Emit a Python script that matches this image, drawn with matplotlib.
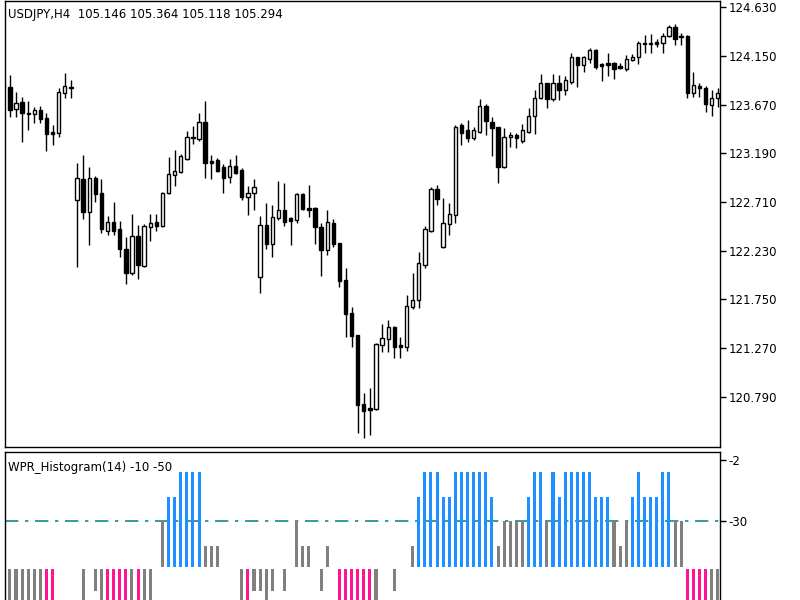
import numpy as np
import matplotlib
matplotlib.use('Agg')
import matplotlib.pyplot as plt

plt.rcParams['axes.unicode_minus'] = False

# USDJPY H4 candles
opens = [123.87, 123.84, 123.63, 123.70, 123.59, 123.58, 123.62, 123.54, 123.40, 123.39,
         123.78, 123.83, 122.73, 122.94, 122.61, 122.95, 122.80, 122.42, 122.51, 122.44,
         122.25, 122.01, 122.37, 122.08, 122.46, 122.51, 122.47, 122.80, 122.98, 123.01,
         123.13, 123.34, 123.33, 123.50, 123.11, 123.12, 123.05, 122.96, 123.06, 123.03,
         122.76, 122.80, 121.97, 122.48, 122.30, 122.55, 122.63, 122.55, 122.53, 122.79,
         122.65, 122.65, 122.46, 122.24, 122.50, 122.31, 121.94, 121.61, 121.40, 120.72,
         120.68, 120.67, 121.30, 121.36, 121.48, 121.30, 121.28, 121.67, 121.74, 122.09,
         122.42, 122.84, 122.27, 122.49, 122.58, 123.47, 123.42, 123.34, 123.40, 123.66,
         123.50, 123.45, 123.05, 123.35, 123.37, 123.31, 123.40, 123.56, 123.74, 123.88,
         123.73, 123.88, 123.81, 123.89, 124.14, 124.06, 124.12, 124.21, 124.07, 124.08,
         124.08, 124.05, 124.02, 124.11, 124.14, 124.28, 124.27, 124.29, 124.28, 124.35,
         124.44, 124.34, 124.35, 123.78, 123.85, 123.83, 123.67, 123.74]
highs = [123.88, 123.96, 123.79, 123.75, 123.71, 123.65, 123.66, 123.59, 123.47, 123.83,
         123.98, 123.91, 123.09, 123.17, 123.05, 122.97, 122.94, 122.57, 122.71, 122.52,
         122.36, 122.59, 122.48, 122.49, 122.59, 122.59, 122.81, 123.15, 123.22, 123.18,
         123.41, 123.46, 123.59, 123.71, 123.17, 123.14, 123.08, 123.13, 123.17, 123.04,
         122.87, 122.94, 122.57, 122.70, 122.68, 122.92, 122.90, 122.56, 122.80, 122.80,
         122.88, 122.66, 122.50, 122.63, 122.54, 122.31, 122.06, 121.67, 121.40, 120.83,
         120.87, 121.32, 121.51, 121.55, 121.49, 121.38, 121.79, 122.01, 122.22, 122.47,
         122.86, 122.88, 122.75, 122.70, 123.47, 123.49, 123.52, 123.45, 123.73, 123.68,
         123.55, 123.45, 123.44, 123.40, 123.39, 123.48, 123.64, 123.81, 123.97, 123.88,
         123.97, 123.96, 123.95, 124.18, 124.14, 124.15, 124.23, 124.22, 124.08, 124.18,
         124.09, 124.08, 124.16, 124.17, 124.30, 124.36, 124.37, 124.32, 124.38, 124.46,
         124.47, 124.38, 124.36, 123.99, 123.88, 123.85, 123.81, 123.83]
lows = [123.83, 123.55, 123.55, 123.30, 123.42, 123.49, 123.49, 123.21, 123.27, 123.35,
        123.74, 123.74, 122.07, 122.54, 122.29, 122.71, 122.40, 122.38, 122.38, 122.17,
        121.90, 121.99, 121.95, 122.07, 122.32, 122.42, 122.46, 122.79, 122.87, 123.00,
        123.12, 123.28, 123.31, 122.95, 122.94, 123.01, 122.80, 122.90, 122.99, 122.73,
        122.58, 122.63, 121.81, 122.25, 122.17, 122.53, 122.47, 122.29, 122.50, 122.63,
        122.56, 122.30, 121.98, 122.19, 122.27, 121.87, 121.38, 121.28, 120.43, 120.38,
        120.41, 120.66, 121.23, 121.23, 121.17, 121.17, 121.24, 121.65, 121.66, 122.06,
        122.41, 122.68, 122.26, 122.38, 122.50, 123.27, 123.30, 123.32, 123.39, 123.37,
        123.16, 122.90, 123.04, 123.25, 123.24, 123.29, 123.39, 123.38, 123.73, 123.64,
        123.71, 123.72, 123.76, 123.87, 123.84, 123.99, 124.08, 124.02, 123.90, 123.95,
        123.92, 124.02, 124.00, 124.10, 124.07, 124.18, 124.18, 124.24, 124.18, 124.34,
        124.26, 124.26, 123.74, 123.75, 123.75, 123.60, 123.56, 123.65]
closes = [123.85, 123.62, 123.69, 123.59, 123.58, 123.62, 123.53, 123.38, 123.38, 123.79,
          123.85, 123.84, 122.95, 122.61, 122.95, 122.79, 122.44, 122.51, 122.42, 122.25,
          122.01, 122.37, 122.09, 122.47, 122.50, 122.47, 122.80, 122.99, 123.02, 123.16,
          123.35, 123.35, 123.50, 123.09, 123.09, 123.02, 122.95, 123.06, 123.00, 122.76,
          122.80, 122.86, 122.48, 122.30, 122.56, 122.63, 122.51, 122.52, 122.79, 122.64,
          122.63, 122.46, 122.24, 122.51, 122.30, 121.93, 121.60, 121.39, 120.71, 120.65,
          120.66, 121.31, 121.37, 121.48, 121.28, 121.28, 121.68, 121.74, 122.11, 122.44,
          122.84, 122.74, 122.50, 122.59, 123.45, 123.39, 123.34, 123.42, 123.66, 123.51,
          123.44, 123.05, 123.35, 123.37, 123.34, 123.42, 123.56, 123.74, 123.88, 123.73,
          123.88, 123.81, 123.91, 124.14, 124.06, 124.14, 124.21, 124.04, 124.05, 124.06,
          124.02, 124.03, 124.12, 124.14, 124.28, 124.27, 124.28, 124.27, 124.35, 124.44,
          124.32, 124.35, 123.78, 123.86, 123.83, 123.68, 123.74, 123.78]

# WPR histogram state per bar: T tall blue, M mid blue, G grey to -30, S short grey,
# L low grey, l low grey short, P low magenta, '' nothing
hist_state = ('', 'L', 'L', 'L', 'L', 'L', 'L', 'P', 'P', '',
              '', '', '', 'L', '', 'l', 'L', 'P', 'P', 'P',
              'P', 'L', 'P', 'L', 'L', '', 'G', 'M', 'M', 'T',
              'T', 'T', 'T', 'S', 'S', 'S', '', '', '', 'L',
              'P', 'l', 'l', 'L', 'l', '', 'l', '', 'G', 'S',
              'S', '', 'l', 'S', '', 'P', 'P', 'P', 'P', 'P',
              'P', 'L', '', '', 'l', '', '', 'S', 'M', 'T',
              'T', 'T', 'M', 'M', 'T', 'T', 'T', 'T', 'T', 'T',
              'M', 'S', 'G', 'G', 'G', 'G', 'M', 'T', 'T', 'G',
              'T', 'M', 'T', 'T', 'T', 'T', 'T', 'M', 'M', 'M',
              'G', 'S', 'G', 'M', 'T', 'M', 'M', 'M', 'T', 'T',
              'G', 'G', 'P', 'P', 'P', 'P', 'L', 'L')
state_top = {'T': -7.5, 'M': -19, 'G': -30, 'S': -41.5, 'L': -52, 'l': -52, 'P': -52}
state_bot = {'T': -51, 'M': -51, 'G': -51, 'S': -51, 'L': -70, 'l': -62, 'P': -70}
state_clr = {'T': '#1e90ff', 'M': '#1e90ff', 'G': '#808080', 'S': '#808080',
             'L': '#808080', 'l': '#808080', 'P': '#ff1493'}

price_ticks = [120.790, 121.270, 121.750, 122.230, 122.710, 123.190, 123.670, 124.150, 124.630]
wpr_ticks = [-2, -30]
wpr_level = -30

x = np.arange(len(closes))
o = np.array(opens); c = np.array(closes)

fig = plt.figure(figsize=(8, 6), dpi=100)
ax = fig.add_axes([0.00625, 0.255, 0.894, 0.743])
ax2 = fig.add_axes([0.00625, 0.0, 0.894, 0.2467])

ax.vlines(x, lows, highs, color='black', linewidth=1)
body_lo = np.minimum(o, c)
body_h = np.maximum(np.abs(c - o), 0.008)
face = np.where(c >= o, 'white', 'black')
ax.bar(x, body_h, bottom=body_lo, width=0.55, color=face, edgecolor='black', linewidth=1, zorder=3)

ax.set_xlim(0.2, 117.4)
ax.set_ylim(120.293, 124.69)
ax.set_xticks([])
ax.yaxis.tick_right()
ax.set_yticks(price_ticks)
ax.set_yticklabels(['%.3f' % t for t in price_ticks])
ax.text(0.004, 0.985, 'USDJPY,H4  105.146 105.364 105.118 105.294', transform=ax.transAxes,
        fontsize=8.5, va='top', ha='left')

for i, s in enumerate(hist_state):
    if not s:
        continue
    ax2.bar(i, state_top[s] - state_bot[s], bottom=state_bot[s], width=0.5,
            color=state_clr[s], linewidth=0)
ax2.axhline(wpr_level, color='#138a8a', linewidth=1.2, linestyle=(0, (8, 4, 2, 4)), zorder=0)
ax2.set_xlim(0.2, 117.4)
ax2.set_ylim(-66, 1.7)
ax2.set_xticks([])
ax2.yaxis.tick_right()
ax2.set_yticks(wpr_ticks)
ax2.spines['bottom'].set_visible(False)
ax2.text(0.004, 0.94, 'WPR_Histogram(14) -10 -50', transform=ax2.transAxes,
         fontsize=8.5, va='top', ha='left')

for a in (ax, ax2):
    a.tick_params(axis='y', labelsize=8.5, length=4, width=1, pad=2)
    for sp in a.spines.values():
        sp.set_linewidth(1)

fig.savefig('out.png', dpi=100)
